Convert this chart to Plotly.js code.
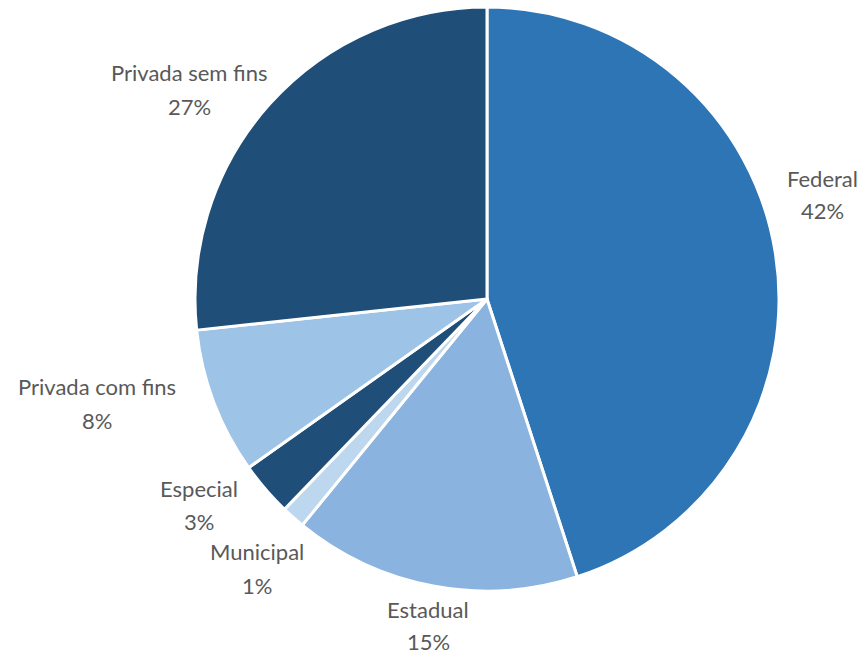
<!DOCTYPE html>
<html>
<head>
<meta charset="utf-8">
<script src="https://cdn.plot.ly/plotly-3.0.1.min.js"></script>
<style>html,body{margin:0;padding:0;background:#fff;}#chart{width:866px;height:655px;}</style>
</head>
<body>
<div id="chart"></div>
<script>
// Data (slice angles) and the printed labels
const categories = ["Federal", "Estadual", "Municipal", "Especial", "Privada com fins", "Privada sem fins"];
const values = [45.0, 15.9, 1.3, 3.0, 8.1, 26.7];
const percentLabels = ["42%", "15%", "1%", "3%", "8%", "27%"];
const colors = ["#2E75B6", "#8AB4DF", "#BDD7EE", "#1F4E79", "#9DC3E6", "#1F4E79"];

const W = 866, H = 655;
// label line centres (pixels): [x, y of name line, y of percent line]
const labelPos = [[822, 178, 211], [428, 609, 641], [257, 551, 585], [199, 488, 521], [97, 386, 420], [189, 73, 106]];

const labelFont = {family: "Lato, 'Open Sans', sans-serif", size: 22, color: "#595959"};
const annotations = [];
categories.forEach((c, i) => {
  [[c, labelPos[i][1]], [percentLabels[i], labelPos[i][2]]].forEach(([t, y]) => {
    annotations.push({
      text: t,
      x: labelPos[i][0] / W,
      y: 1 - y / H,
      xref: "paper", yref: "paper",
      xanchor: "center", yanchor: "middle",
      showarrow: false,
      borderpad: 0,
      font: labelFont
    });
  });
});

const cx = 487, cy = 299, r = 292;
const trace = {
  type: "pie",
  labels: categories,
  values: values,
  sort: false,
  direction: "clockwise",
  rotation: 0,
  textinfo: "none",
  hoverinfo: "label+percent",
  marker: {colors: colors, line: {color: "#ffffff", width: 3}},
  domain: {x: [(cx - r) / W, (cx + r) / W], y: [1 - (cy + r) / H, 1 - (cy - r) / H]}
};

Plotly.newPlot("chart", [trace], {
  width: W, height: H,
  margin: {l: 0, r: 0, t: 0, b: 0},
  showlegend: false,
  paper_bgcolor: "#ffffff",
  annotations: annotations
}, {displayModeBar: false, staticPlot: true});
</script>
</body>
</html>
